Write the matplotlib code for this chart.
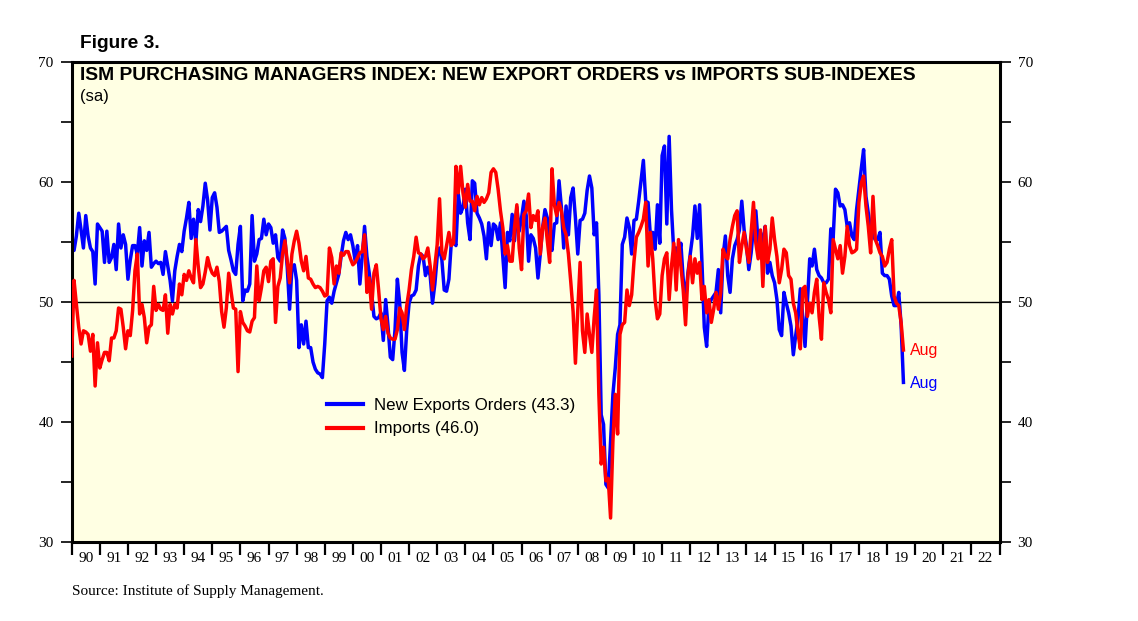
import numpy as np
import matplotlib
matplotlib.use("Agg")
import matplotlib.pyplot as plt
from matplotlib.ticker import FixedLocator, FixedFormatter, NullFormatter, MultipleLocator
from matplotlib.lines import Line2D

# ---------------- data (monthly, Jan 1990 - Aug 2019) ----------------
start_year = 1990

new_export_orders = [
    54.9, 54.3, 55.5, 57.4, 56.0, 54.5, 57.2, 55.5, 54.5, 54.2, 51.5, 56.5,  # 1990
    56.2, 55.9, 53.3, 55.9, 53.3, 53.7, 54.8, 52.7, 56.5, 54.5, 55.6, 54.8,  # 1991
    51.9, 53.5, 54.7, 54.7, 54.0, 56.2, 53.0, 55.1, 54.3, 55.8, 52.9, 53.2,  # 1992
    53.4, 53.2, 53.3, 52.3, 54.2, 53.0, 51.8, 50.1, 52.6, 53.8, 54.8, 54.2,  # 1993
    55.9, 57.0, 58.3, 55.3, 56.9, 55.0, 57.7, 56.7, 58.0, 59.9, 58.5, 56.0,  # 1994
    58.7, 59.1, 57.9, 55.8, 55.9, 56.1, 56.3, 54.3, 53.5, 52.6, 52.3, 54.8,  # 1995
    56.3, 50.1, 51.0, 50.9, 51.5, 57.2, 53.4, 54.0, 55.2, 55.3, 56.9, 55.6,  # 1996
    56.5, 56.2, 54.9, 55.6, 53.7, 53.4, 56.0, 55.3, 52.9, 49.4, 52.9, 53.1,  # 1997
    51.8, 46.2, 48.1, 46.5, 48.4, 46.2, 46.2, 45.0, 44.4, 44.1, 44.0, 43.7,  # 1998
    46.5, 50.1, 50.4, 49.9, 50.9, 51.6, 52.3, 53.8, 55.1, 55.8, 55.2, 55.6,  # 1999
    54.7, 53.4, 54.7, 51.5, 53.8, 56.3, 53.8, 52.4, 50.8, 48.8, 48.6, 48.7,  # 2000
    49.1, 46.8, 50.2, 48.0, 45.4, 45.2, 47.7, 51.9, 49.9, 45.8, 44.3, 47.7,  # 2001
    49.9, 50.5, 50.6, 51.0, 53.0, 54.0, 53.8, 52.2, 52.9, 52.2, 49.9, 51.5,  # 2002
    53.8, 54.5, 53.5, 51.0, 50.9, 51.9, 54.9, 55.2, 54.7, 59.0, 57.4, 57.9,  # 2003
    59.4, 56.6, 55.2, 60.1, 59.9, 57.4, 57.0, 56.5, 55.5, 53.6, 56.6, 54.7,  # 2004
    56.5, 56.3, 55.2, 56.6, 53.8, 51.2, 55.8, 55.1, 57.3, 55.1, 57.9, 55.9,  # 2005
    57.0, 58.4, 57.2, 53.4, 55.6, 55.3, 54.5, 52.0, 54.0, 56.2, 57.7, 57.0,  # 2006
    54.8, 54.3, 56.5, 56.6, 60.1, 57.9, 54.5, 58.0, 55.6, 58.7, 59.5, 57.0,  # 2007
    54.0, 56.8, 56.9, 57.4, 59.3, 60.5, 59.5, 55.6, 56.6, 50.6, 40.6, 39.8,  # 2008
    34.8, 34.5, 38.4, 42.3, 44.5, 47.3, 48.1, 54.8, 55.4, 57.0, 56.2, 54.0,  # 2009
    56.8, 56.9, 58.4, 60.1, 61.8, 58.4, 58.3, 55.5, 55.8, 54.4, 58.1, 54.9,  # 2010
    62.2, 63.0, 56.5, 63.8, 57.7, 54.1, 54.5, 53.6, 54.9, 51.9, 50.2, 52.4,  # 2011
    54.0, 55.5, 58.0, 55.3, 58.1, 53.3, 47.9, 46.3, 49.9, 50.2, 50.5, 50.8,  # 2012
    52.7, 49.1, 53.8, 55.5, 52.2, 50.8, 53.6, 54.7, 55.2, 56.0, 58.4, 56.0,  # 2013
    54.7, 52.7, 54.1, 56.3, 57.6, 54.9, 55.8, 54.7, 56.3, 52.4, 53.3, 52.2,  # 2014
    51.6, 50.2, 47.7, 47.2, 50.8, 49.9, 49.1, 48.0, 45.6, 47.2, 48.6, 51.1,  # 2015
    48.8, 46.3, 49.9, 53.6, 53.0, 54.4, 52.7, 52.2, 52.0, 51.6, 51.6, 51.9,  # 2016
    56.1, 55.3, 59.4, 59.1, 58.0, 58.1, 57.7, 56.3, 56.6, 55.5, 55.2, 57.7,  # 2017
    59.4, 61.1, 62.7, 58.8, 57.4, 56.1, 55.5, 55.2, 55.2, 55.8, 52.4, 52.2,  # 2018
    52.2, 51.9, 50.5, 49.7, 49.7, 50.8, 48.1, 43.3,                          # 2019
]

imports = [
    45.5, 51.8, 49.8, 47.9, 46.5, 47.6, 47.5, 47.3, 45.9, 47.3, 43.0, 46.6,  # 1990
    44.5, 45.2, 45.8, 45.8, 45.1, 47.0, 47.0, 47.6, 49.5, 49.4, 47.9, 46.1,  # 1991
    47.6, 47.2, 49.3, 52.6, 54.0, 49.0, 49.8, 48.7, 46.6, 47.9, 48.1, 51.3,  # 1992
    49.3, 49.8, 49.4, 49.3, 50.6, 47.4, 49.8, 49.0, 49.8, 49.5, 51.5, 50.6,  # 1993
    52.3, 51.8, 52.6, 52.0, 51.6, 55.2, 53.0, 51.2, 51.5, 52.5, 53.7, 52.9,  # 1994
    52.4, 52.2, 52.9, 51.7, 49.2, 47.9, 49.5, 52.4, 50.9, 49.5, 49.4, 44.2,  # 1995
    49.2, 48.3, 48.0, 47.6, 47.5, 48.4, 48.7, 53.0, 50.1, 51.2, 52.6, 52.9,  # 1996
    51.7, 53.4, 53.6, 48.3, 51.3, 52.0, 54.0, 55.1, 53.4, 51.6, 54.0, 55.1,  # 1997
    55.9, 54.9, 53.4, 52.6, 53.8, 52.0, 51.9, 51.5, 51.2, 51.3, 51.2, 50.9,  # 1998
    50.5, 50.6, 54.5, 53.7, 51.5, 53.0, 52.4, 54.1, 53.9, 54.2, 54.2, 53.6,  # 1999
    53.1, 53.3, 53.7, 54.1, 54.2, 55.6, 50.8, 52.0, 49.4, 52.4, 53.1, 51.0,  # 2000
    48.6, 47.7, 48.8, 47.4, 47.0, 46.9, 46.9, 47.7, 49.5, 49.1, 47.7, 49.7,  # 2001
    51.0, 52.7, 53.8, 55.4, 54.1, 54.0, 53.6, 53.8, 54.5, 53.0, 51.0, 53.0,  # 2002
    54.8, 58.6, 54.1, 53.6, 54.7, 55.8, 54.7, 54.9, 61.3, 59.1, 61.3, 59.1,  # 2003
    57.9, 59.8, 58.4, 58.4, 57.6, 58.8, 58.1, 58.7, 58.3, 58.6, 59.1, 60.8,  # 2004
    61.1, 60.8, 59.4, 57.6, 56.2, 54.0, 54.7, 53.4, 53.4, 56.2, 58.1, 54.5,  # 2005
    52.7, 57.3, 57.6, 59.0, 56.2, 57.2, 56.8, 57.6, 54.0, 56.2, 57.0, 55.1,  # 2006
    53.3, 61.1, 58.1, 57.2, 58.3, 57.6, 56.2, 55.6, 54.0, 51.7, 49.2, 44.9,  # 2007
    49.3, 53.3, 47.6, 45.8, 49.0, 47.3, 45.8, 48.7, 51.0, 42.3, 36.5, 37.9,  # 2008
    35.1, 35.3, 32.0, 38.4, 42.3, 39.0, 47.3, 48.1, 48.3, 51.0, 49.7, 50.6,  # 2009
    53.4, 55.4, 55.8, 56.3, 56.9, 58.3, 53.0, 55.8, 53.6, 50.2, 48.6, 49.0,  # 2010
    52.2, 53.6, 54.1, 50.2, 53.0, 54.9, 51.0, 55.2, 53.0, 51.0, 48.1, 52.2,  # 2011
    53.8, 51.6, 53.6, 52.4, 53.3, 50.2, 51.3, 49.1, 50.2, 48.3, 49.4, 50.8,  # 2012
    49.4, 50.8, 54.4, 53.8, 53.6, 55.2, 56.3, 57.2, 57.6, 53.3, 54.7, 55.8,  # 2013
    54.4, 53.3, 55.8, 58.3, 54.9, 53.6, 56.0, 51.3, 56.3, 53.3, 54.4, 57.0,  # 2014
    55.2, 53.8, 51.6, 52.7, 54.4, 54.1, 52.2, 51.9, 49.9, 49.1, 47.4, 46.1,  # 2015
    51.1, 51.3, 48.8, 49.9, 49.1, 50.8, 51.9, 48.8, 46.9, 51.6, 50.8, 50.2,  # 2016
    49.1, 55.2, 54.4, 53.6, 54.7, 52.4, 53.8, 56.3, 54.7, 54.1, 54.2, 54.4,  # 2017
    58.3, 59.9, 60.5, 58.0, 56.3, 54.1, 58.8, 55.2, 54.7, 54.1, 53.8, 53.0,  # 2018
    53.3, 54.4, 55.2, 50.5, 49.9, 49.7, 48.3, 46.0,                          # 2019
]

year_labels = ["90", "91", "92", "93", "94", "95", "96", "97", "98", "99",
               "00", "01", "02", "03", "04", "05", "06", "07", "08", "09",
               "10", "11", "12", "13", "14", "15", "16", "17", "18", "19",
               "20", "21", "22"]

legend_labels = ["New Exports Orders (43.3)", "Imports (46.0)"]
last_month_label = "Aug"

# ---------------- figure ----------------
W, H = 1138, 621
fig = plt.figure(figsize=(W / 100, H / 100), dpi=100)
fig.patch.set_facecolor("white")

def fx(px):
    return px / W

def fy(py):
    return 1 - py / H

ax_left, ax_right, ax_top, ax_bottom = 71.7, 999.5, 62, 542
ax = fig.add_axes([fx(ax_left), fy(ax_bottom), (ax_right - ax_left) / W, (ax_bottom - ax_top) / H])
ax.set_facecolor("#FFFFE3")

x = start_year + np.arange(len(new_export_orders)) / 12.0

BLUE = "#0000FF"
RED = "#FF0000"

ax.axhline(50, color="black", lw=1.0, zorder=1)
ax.plot(x, new_export_orders, color=BLUE, lw=2.5, zorder=2, solid_joinstyle="round")
ax.plot(x, imports, color=RED, lw=2.5, zorder=3, solid_joinstyle="round")

ax.set_xlim(start_year, start_year + len(year_labels))
ax.set_ylim(30, 70)

for s in ax.spines.values():
    s.set_linewidth(2.2)
    s.set_color("black")

serif = "Liberation Serif"
sans = "Liberation Sans"

# x axis: year boundary ticks, labels centred in each year
years = list(range(start_year, start_year + len(year_labels) + 1))
ax.xaxis.set_major_locator(FixedLocator(years))
ax.xaxis.set_major_formatter(NullFormatter())
ax.xaxis.set_minor_locator(FixedLocator([y + 0.5 for y in years[:-1]]))
ax.xaxis.set_minor_formatter(FixedFormatter(year_labels))
ax.tick_params(axis="x", which="major", direction="out", length=9, width=1.6, bottom=True, top=False)
ax.tick_params(axis="x", which="minor", length=0, pad=7, labelsize=11)

# y axis: ticks every 5, labels every 10, both sides
ax.yaxis.set_major_locator(MultipleLocator(10))
ax.yaxis.set_minor_locator(MultipleLocator(5))
ax.tick_params(axis="y", which="both", direction="out", left=True, right=True,
               labelleft=True, labelright=True, length=8, width=1.2, pad=5, labelsize=11)

for lab in ax.get_xticklabels(minor=True) + ax.get_yticklabels():
    lab.set_fontfamily(serif)

# texts
fig.text(fx(80), fy(43), "Figure 3.", fontsize=13.8, fontweight="bold", family=sans,
         ha="left", va="center")
fig.text(fx(80), fy(75), "ISM PURCHASING MANAGERS INDEX: NEW EXPORT ORDERS vs IMPORTS SUB-INDEXES",
         fontsize=13.9, fontweight="bold", family=sans, ha="left", va="center")
fig.text(fx(80), fy(97), "(sa)", fontsize=12, family=sans, ha="left", va="center")
fig.text(fx(72), fy(591), "Source: Institute of Supply Management.", fontsize=11, family=serif,
         ha="left", va="center")

# legend
handles = [Line2D([], [], color=BLUE, lw=3.0), Line2D([], [], color=RED, lw=3.0)]
leg = ax.legend(handles, legend_labels, loc="upper left",
                bbox_to_anchor=(fx(327), fy(398)), bbox_transform=fig.transFigure,
                frameon=False, handlelength=2.15, handletextpad=0.6, labelspacing=0.5,
                borderpad=0, borderaxespad=0, prop={"family": sans, "size": 12.2})

# end labels
ax.annotate(last_month_label, xy=(x[-1], imports[-1]), xytext=(4.5, 0), textcoords="offset points",
            color=RED, fontsize=11.5, family=sans, ha="left", va="center")
ax.annotate(last_month_label, xy=(x[-1], new_export_orders[-1]), xytext=(4.5, -1), textcoords="offset points",
            color=BLUE, fontsize=11.5, family=sans, ha="left", va="center")

fig.savefig("out.png", dpi=100)
